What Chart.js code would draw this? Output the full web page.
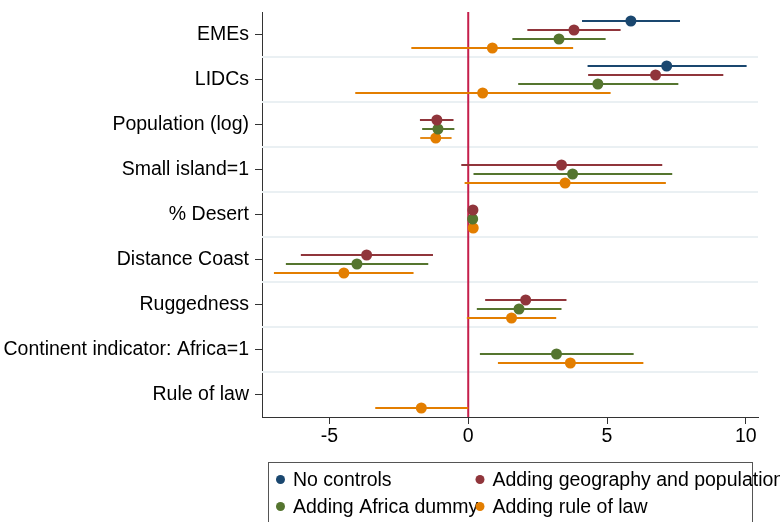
<!DOCTYPE html>
<html>
<head>
<meta charset="utf-8">
<script src="https://cdn.jsdelivr.net/npm/chart.js@4"></script>
<style>
  html, body { margin: 0; padding: 0; background: #fff; }
  canvas { display: block; }
</style>
</head>
<body>
<canvas id="coefChart" width="780" height="522"></canvas>
<script>
// regressors, top to bottom
const categories = ['EMEs', 'LIDCs', 'Population (log)', 'Small island=1', '% Desert',
  'Distance Coast', 'Ruggedness', 'Continent indicator: Africa=1', 'Rule of law'];

const seriesNames = ['No controls', 'Adding geography and population', 'Adding Africa dummy', 'Adding rule of law'];

// point estimates and confidence bounds per specification (null = not in model)
const noControlsEst = [5.86, 7.15, null, null, null, null, null, null, null];
const noControlsLo  = [4.10, 4.30, null, null, null, null, null, null, null];
const noControlsHi  = [7.63, 10.03, null, null, null, null, null, null, null];

const geoPopEst = [3.81, 6.75, -1.13, 3.36, 0.17, -3.66, 2.07, null, null];
const geoPopLo  = [2.13, 4.32, -1.74, -0.25, 0.10, -6.03, 0.61, null, null];
const geoPopHi  = [5.49, 9.19, -0.53, 6.99, 0.24, -1.27, 3.54, null, null];

const africaEst = [3.27, 4.67, -1.09, 3.76, 0.16, -4.01, 1.83, 3.18, null];
const africaLo  = [1.59, 1.80, -1.66, 0.19, 0.09, -6.57, 0.31, 0.42, null];
const africaHi  = [4.95, 7.57, -0.50, 7.35, 0.23, -1.44, 3.36, 5.96, null];

const ruleLawEst = [0.87, 0.52, -1.17, 3.49, 0.18, -4.48, 1.56, 3.68, -1.69];
const ruleLawLo  = [-2.05, -4.07, -1.73, -0.13, 0.11, -7.00, -0.05, 1.07, -3.35];
const ruleLawHi  = [3.78, 5.13, -0.60, 7.12, 0.25, -1.97, 3.17, 6.31, 0.00];

const xTicks = [-5, 0, 5, 10];

const colors = ['#1a476f', '#90353b', '#55752f', '#e37e00'];
const slotOffset = [-0.3, -0.1, 0.1, 0.3];
const FONT = { family: 'Liberation Sans, Arial, sans-serif', size: 19.5 };

function buildPoints(est, lo, hi, s) {
  const pts = [];
  est.forEach((v, i) => {
    if (v === null) return;
    pts.push({ x: v, y: i + slotOffset[s], lo: lo[i], hi: hi[i] });
  });
  return pts;
}

const allSeries = [
  [noControlsEst, noControlsLo, noControlsHi],
  [geoPopEst, geoPopLo, geoPopHi],
  [africaEst, africaLo, africaHi],
  [ruleLawEst, ruleLawLo, ruleLawHi]
];

const datasets = allSeries.map((s, k) => ({
  label: seriesNames[k],
  data: buildPoints(s[0], s[1], s[2], k),
  backgroundColor: colors[k],
  borderWidth: 0,
  pointRadius: 5.5,
  pointHoverRadius: 5.5
}));

// light separators between regressors + red line at zero
const backdrop = {
  id: 'backdrop',
  beforeDatasetsDraw(chart) {
    const { ctx, chartArea, scales } = chart;
    ctx.save();
    ctx.strokeStyle = '#eaf0f3';
    ctx.lineWidth = 2;
    for (let i = 0; i < categories.length - 1; i++) {
      const y = scales.y.getPixelForValue(i + 0.5);
      ctx.beginPath();
      ctx.moveTo(chartArea.left, y);
      ctx.lineTo(chartArea.right, y);
      ctx.stroke();
    }
    const x0 = scales.x.getPixelForValue(0);
    ctx.strokeStyle = '#c51f4b';
    ctx.lineWidth = 2;
    ctx.beginPath();
    ctx.moveTo(x0, chartArea.top);
    ctx.lineTo(x0, chartArea.bottom);
    ctx.stroke();
    ctx.restore();
  }
};

// confidence intervals as horizontal bars
const errorBars = {
  id: 'errorBars',
  beforeDatasetsDraw(chart) {
    const { ctx, scales } = chart;
    ctx.save();
    ctx.lineWidth = 1.8;
    chart.data.datasets.forEach((ds) => {
      ctx.strokeStyle = ds.backgroundColor;
      ds.data.forEach(p => {
        const y = scales.y.getPixelForValue(p.y);
        ctx.beginPath();
        ctx.moveTo(scales.x.getPixelForValue(p.lo), y);
        ctx.lineTo(scales.x.getPixelForValue(p.hi), y);
        ctx.stroke();
      });
    });
    ctx.restore();
  }
};

// boxed two-column legend under the plot
const boxLegend = {
  id: 'boxLegend',
  afterDraw(chart) {
    const { ctx, chartArea } = chart;
    const left = chartArea.left + 6;
    const top = chartArea.bottom + 45;
    ctx.save();
    ctx.strokeStyle = '#555';
    ctx.lineWidth = 1;
    ctx.strokeRect(Math.round(left) + 0.5, Math.round(top) + 0.5, 484, 80);
    ctx.font = FONT.size + 'px ' + FONT.family;
    ctx.textBaseline = 'middle';
    chart.data.datasets.forEach((ds, k) => {
      const col = k % 2, row = Math.floor(k / 2);
      const mx = left + 12.5 + col * 199.5;
      const my = top + 17.5 + row * 27;
      ctx.fillStyle = ds.backgroundColor;
      ctx.beginPath();
      ctx.arc(mx, my, 4.5, 0, Math.PI * 2);
      ctx.fill();
      ctx.fillStyle = '#000';
      ctx.fillText(ds.label, mx + 12.5, my + 1);
    });
    ctx.restore();
  }
};

new Chart(document.getElementById('coefChart'), {
  type: 'scatter',
  data: { datasets: datasets },
  options: {
    responsive: false,
    animation: false,
    layout: { padding: { top: 12, right: 22, bottom: 75, left: 0 } },
    plugins: {
      legend: { display: false },
      tooltip: { enabled: false }
    },
    scales: {
      x: {
        type: 'linear',
        min: -7.43,
        max: 10.44,
        afterBuildTicks: scale => { scale.ticks = xTicks.map(v => ({ value: v })); },
        afterFit: scale => { scale.height = 30; scale.paddingLeft = 0; scale.paddingRight = 0; },
        border: { display: true, color: '#333', width: 1 },
        grid: { display: true, drawOnChartArea: false, drawTicks: true, tickLength: 7, tickColor: '#333' },
        ticks: { color: '#000', font: FONT, padding: 1, maxRotation: 0 }
      },
      y: {
        type: 'linear',
        reverse: true,
        min: -0.5,
        max: categories.length - 0.5,
        afterBuildTicks: scale => { scale.ticks = categories.map((c, i) => ({ value: i })); },
        afterFit: scale => { scale.width = 262; scale.paddingTop = 0; scale.paddingBottom = 0; },
        border: { display: true, color: '#333', width: 1 },
        grid: { display: true, drawOnChartArea: false, drawTicks: true, tickLength: 7, tickColor: '#333' },
        ticks: {
          color: '#000',
          font: FONT,
          padding: 6,
          callback: v => categories[v]
        }
      }
    }
  },
  plugins: [backdrop, errorBars, boxLegend]
});
</script>
</body>
</html>
